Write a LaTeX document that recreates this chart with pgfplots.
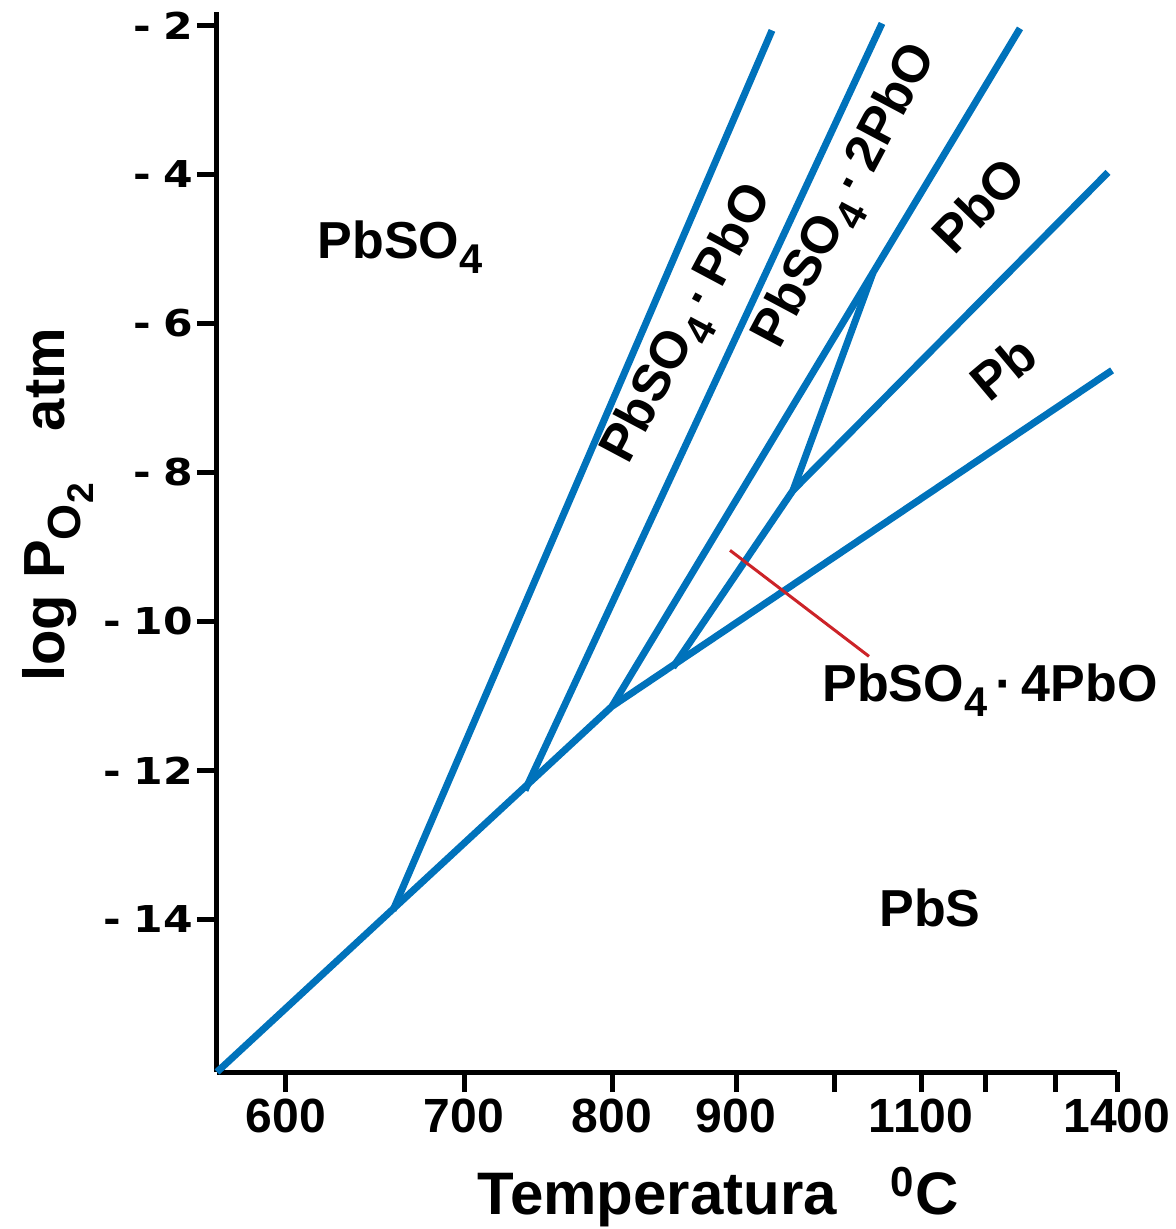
\documentclass[border=0pt]{standalone}
\usepackage{fontspec}
\setmainfont{Liberation Sans}
\newfontfamily\tickfont{DejaVu Sans}[FakeStretch=1.15]
\usepackage{pgfplots}
\pgfplotsset{compat=1.18}
\definecolor{lineblue}{RGB}{0,114,187}
\definecolor{linered}{RGB}{204,35,40}
\newcommand\sub[1]{\raisebox{-0.28em}{\scalebox{0.8}{#1}}}
\newcommand\regfont{\fontsize{26}{30}\selectfont\bfseries}
\begin{document}
\begin{tikzpicture}
\begin{axis}[
  at={(0,0)}, anchor=south west,
  scale only axis, width=450pt, height=530pt,
  xmin=-1.19075, xmax=-0.59767, ymin=-16.05, ymax=-1.82,
  axis x line*=bottom, axis y line*=left,
  axis line style={line width=2.5pt, -},
  tick align=outside, major tick length=10pt,
  tick style={line width=2.5pt, black},
  xtick={-1.14528,-1.02798,-0.93045,-0.84874,-0.78416,-0.72682,-0.68465,-0.63853,-0.59767},
  xticklabels={600,700,800,900,,1100,,,1400},
  ytick={-2,-4,-6,-8,-10,-12,-14},
  yticklabels={-\,\,2,-\,\,4,-\,\,6,-\,\,8,-\,\,10,-\,\,12,-\,\,14},
  xticklabel style={font=\fontsize{24}{24}\selectfont\bfseries},
  yticklabel style={font=\tickfont\bfseries\fontsize{18.5}{18.5}\selectfont, xshift=1.5pt},
  clip=false,
  xlabel={Temperatura\hspace{0.9em}\textsuperscript{0}C},
  xlabel style={at={(axis description cs:0.557,-0.118)}, anchor=center, font=\fontsize{30}{30}\selectfont\bfseries},
  ylabel={log P\sub{O\sub{2}}\hspace{0.9em}atm},
  ylabel style={at={(axis description cs:-0.1767,0.535)}, anchor=center, font=\fontsize{29}{29}\selectfont\bfseries},
]
% boundaries
\addplot[lineblue, line width=3.5pt] coordinates {(-1.19075,-16.05) (-0.93045,-11.141) (-0.60096,-6.631)};
\addplot[lineblue, line width=3.5pt] coordinates {(-1.07477,-13.879) (-0.82502,-2.067)};
\addplot[lineblue, line width=3.5pt] coordinates {(-0.98778,-12.268) (-0.75253,-1.973)};
\addplot[lineblue, line width=3.5pt] coordinates {(-0.93045,-11.141) (-0.66159,-2.040)};
\addplot[lineblue, line width=3.5pt] coordinates {(-0.89026,-10.617) (-0.81118,-8.242) (-0.75846,-5.32)};
\addplot[lineblue, line width=3.5pt] coordinates {(-0.81118,-8.242) (-0.60360,-3.973)};
\addplot[linered, line width=1.5pt] coordinates {(-0.85269,-9.047) (-0.76110,-10.470)};
% region labels
\node[font=\regfont] at (rel axis cs:0.2033,0.7783) {PbSO\sub{4}};
\node[font=\regfont] at (rel axis cs:0.7922,0.1547) {PbS};
\node[font=\regfont] at (rel axis cs:0.8589,0.3604) {PbSO\sub{4}\,·\,4PbO};
\node[font=\regfont, rotate=62, inner sep=0pt] at (rel axis cs:0.5256,0.7047) {PbSO\sub{4}\,·\,PbO};
\node[font=\regfont, rotate=62, inner sep=0pt] at (rel axis cs:0.7011,0.8255) {PbSO\sub{4}\,·\,2PbO};
\node[font=\regfont, rotate=46, inner sep=0pt] at (rel axis cs:0.8456,0.8179) {PbO};
\node[font=\regfont, rotate=40, inner sep=0pt] at (rel axis cs:0.8733,0.6642) {Pb};
\end{axis}
\pgfresetboundingbox
\path[use as bounding box] (-108.5pt,-78.5pt) rectangle (479pt,536pt);
\end{tikzpicture}
\end{document}
